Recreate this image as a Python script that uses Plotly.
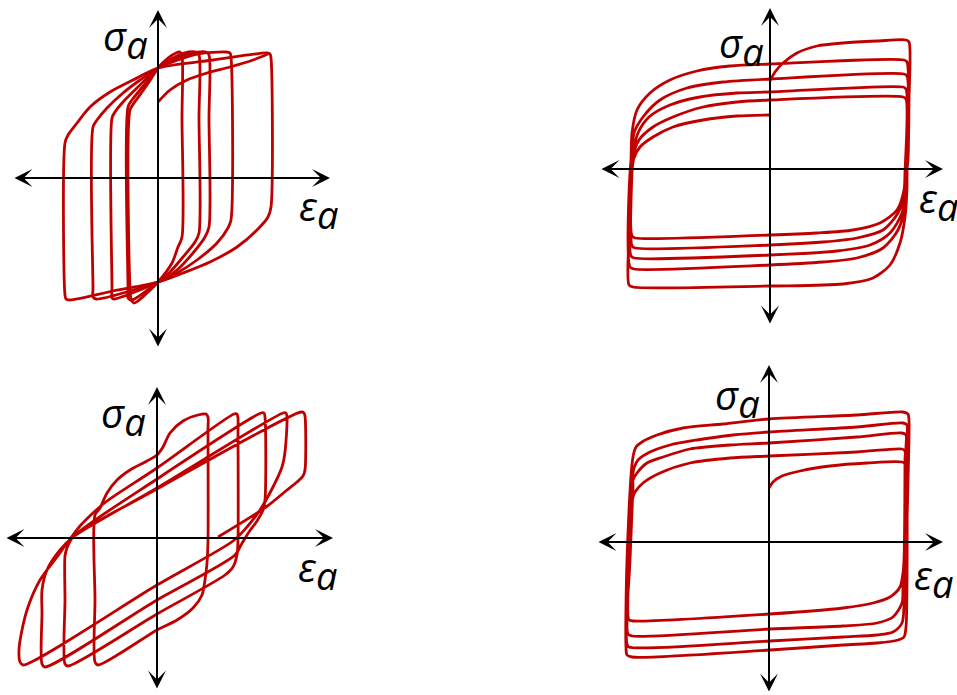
import plotly.graph_objects as go

# ── Colours / fonts ─────────────────────────────────────────
RED = '#c00000'
LABEL_FONT = dict(family='Open Sans', size=40, color='black')

# ── Data (stress–strain loops, arbitrary units, origin = axis crossing) ──
# Panel 1 : cyclic softening, loops pinned at two common points
p1_initial = [(0, 76), (12, 88), (29, 98), (49, 105), (72, 111), (95, 118), (110, 124)]
p1_loop_a = [(0, 110), (10, 120), (18, 125), (22, 126), (24, 122), (24, 60), (24, -59), (20, -69),
             (14, -85), (0, -104), (-20, -123), (-24, -125), (-27, -121), (-28, -110), (-28, 68),
             (-24, 75), (-16, 86), (-7, 99), (0, 110)]
p1_loop_b = [(0, 110), (13, 119), (26, 125), (38, 126), (41, 123), (41, 60), (41, -55), (37, -64),
             (25, -79), (12, -94), (0, -104), (-26, -122), (-30, -120), (-30, -110), (-30, 71),
             (-26, 78), (-18, 88), (-8, 100), (0, 110)]
p1_loop_c = [(0, 110), (15, 118), (30, 124), (48, 126), (51, 123), (51, 60), (51, -49), (47, -59),
             (35, -75), (19, -92), (0, -104), (-44, -121), (-46, -120), (-46, -110), (-46, 60),
             (-43, 66), (-35, 76), (-21, 90), (0, 110)]
p1_loop_d = [(0, 110), (20, 118), (39, 124), (68, 126), (72, 125), (73, 121), (73, -42), (70, -50),
             (59, -65), (39, -82), (19, -95), (0, -104), (-62, -121), (-65, -119), (-65, -110),
             (-65, 51), (-61, 58), (-51, 70), (-35, 85), (-18, 98), (0, 110)]
p1_loop_e = [(0, 110), (55, 118), (109, 125), (112, 124), (113, 120), (113, -29), (110, -39),
             (99, -52), (79, -69), (52, -84), (25, -95), (0, -104), (-45, -113), (-88, -122),
             (-92, -121), (-93, -117), (-93, 35), (-90, 43), (-81, 55), (-68, 71), (-48, 86),
             (-25, 98), (0, 110)]

# Panel 2 : cyclic softening, strain controlled
p2_path = [(0, 88), (5, 97), (13, 106), (27, 116), (47, 123), (73, 126), (107, 128), (136, 129),
           (139, 127), (139, 69), (138, 9), (137, -1), (137, -18), (135, -48), (130, -74), (120, -96),
           (103, -109), (73, -115), (0, -117), (-137, -118), (-141, -116), (-141, -64), (-140, -4),
           (-139, 9), (-138, 36), (-133, 59), (-120, 76), (-100, 89), (-73, 98), (-40, 103), (0, 105),
           (134, 109), (137, 107), (137, 2), (137, -11), (135, -38), (128, -61), (113, -79), (87, -89),
           (53, -93), (0, -96), (-136, -100), (-140, -98), (-140, -4), (-138, 12), (-136, 36),
           (-127, 52), (-110, 69), (-83, 81), (-47, 87), (0, 90), (134, 95), (137, 93), (137, -1),
           (136, -18), (132, -44), (120, -64), (100, -76), (67, -82), (0, -86), (-136, -89),
           (-139, -87), (-139, -3), (-137, 16), (-132, 36), (-121, 52), (-100, 64), (-70, 72),
           (-33, 76), (0, 77), (133, 82), (136, 80), (136, -3), (135, -23), (128, -44), (113, -61),
           (87, -69), (53, -73), (0, -76), (-135, -79), (-138, -77), (-138, -3), (-137, 12),
           (-131, 29), (-117, 42), (-97, 52), (-67, 62), (-33, 67), (0, 69), (133, 72), (136, 70),
           (135, -3), (134, -21), (127, -41), (110, -54), (83, -61), (47, -64), (0, -66),
           (-135, -69), (-138, -67), (-138, -3), (-136, 11), (-130, 22), (-117, 32), (-97, 42),
           (-67, 49), (-33, 53), (0, 54)]

# Panel 3 : kinematic hardening with growing amplitude
p3_loop_1 = [(-62, 23), (-57, 30), (-50, 45), (-40, 58), (-27, 68), (-10, 77), (0, 83), (6, 91),
             (13, 105), (26, 117), (41, 123), (49, 124), (51, 121), (51, 108), (51, -2), (50, -25),
             (48, -42), (45, -57), (36, -70), (20, -82), (0, -92), (-59, -127), (-62, -124),
             (-62, -62), (-62, 23)]
p3_path = [(-90, -5), (-84, 3), (-77, 12), (-64, 25), (-50, 37), (0, 70), (77, 124), (80, 124),
           (81, 120), (81, 108), (81, -2), (80, -17), (76, -29), (68, -37), (0, -76), (-89, -128),
           (-92, -126), (-92, -62), (-92, -18), (-90, -10), (-84, 1), (0, 59), (104, 125), (107, 125),
           (108, 121), (108, 38), (106, 28), (100, 17), (92, 6), (84, -7), (78, -17), (0, -62),
           (-112, -129), (-115, -126), (-115, -75), (-115, -52), (-110, -32), (-97, -12), (-84, 1),
           (0, 50), (126, 125), (129, 125), (130, 121), (128, 86), (125, 71), (116, 51), (103, 28),
           (90, 11), (76, -3), (0, -47), (-134, -127), (-137, -124), (-138, -112), (-135, -92),
           (-129, -69), (-117, -42), (-100, -19), (-84, 1), (0, 49), (144, 126), (147, 125),
           (148, 122), (148, 68), (146, 62), (140, 56), (130, 48), (109, 31), (61, 1)]

# Panel 4 : cyclic hardening, strain controlled
p4_path = [(0, 54), (4, 60), (13, 66), (31, 71), (61, 76), (98, 79), (133, 80), (136, 78), (136, 65),
           (135, -18), (134, -31), (131, -45), (121, -55), (104, -61), (74, -66), (1, -72),
           (-136, -79), (-140, -78), (-141, -74), (-140, -18), (-137, 39), (-136, 45), (-134, 50),
           (-126, 59), (-109, 69), (-79, 79), (-39, 84), (0, 86), (88, 90), (133, 93), (136, 91),
           (136, 82), (135, -31), (134, -45), (133, -61), (124, -75), (108, -81), (74, -84),
           (1, -87), (-137, -94), (-141, -92), (-139, -18), (-136, 55), (-136, 62), (-132, 69),
           (-122, 79), (-106, 85), (-79, 93), (-39, 97), (0, 99), (88, 105), (133, 109), (137, 107),
           (137, 95), (136, -51), (135, -65), (133, -81), (124, -90), (108, -93), (74, -95),
           (1, -99), (-140, -105), (-142, -102), (-141, -18), (-136, 69), (-135, 74), (-131, 82),
           (-119, 90), (-99, 97), (-72, 102), (-36, 107), (0, 110), (88, 115), (134, 119),
           (138, 117), (138, 105), (137, -85), (135, -95), (129, -98), (108, -101), (74, -103),
           (1, -108), (-137, -115), (-142, -113), (-143, -105), (-142, -18), (-136, 85), (-133, 95),
           (-127, 100), (-112, 107), (-86, 114), (-46, 118), (0, 123), (88, 127), (134, 130),
           (139, 128), (140, 121), (139, 60), (137, -20)]

# axis extents per panel: (eps_min, eps_max, sig_min, sig_max)
AXIS_EXTENT = [(-145, 172, -170, 168), (-170, 173, -156, 161),
               (-152, 176, -152, 151), (-172, 174, -151, 177)]
# label anchors per panel (left edge, vertical middle): sigma_a, epsilon_a
LABEL_POS = [((-57, 139), (139, -31)),
             ((-53, 123), (147, -32)),
             ((-58, 122), (139, -32)),
             ((-56, 144), (143, -36))]
SIG_TEXT = '<i>σ<sub><span style="font-size:38px">a</span></sub></i>'
EPS_TEXT = '<i>ε<sub><span style="font-size:38px">a</span></sub></i>'

# ── Layout: one hidden axis pair per panel, origin at the axis crossing ──
PAGE_W, PAGE_H = 957, 695
ORIGINS = [(158, 178), (770, 169), (157, 538), (769, 542)]

PANEL_CURVES = [
    [p1_initial, p1_loop_a, p1_loop_b, p1_loop_c, p1_loop_d, p1_loop_e],
    [p2_path],
    [p3_loop_1, p3_path],
    [p4_path],
]

fig = go.Figure()
annotations = []

for i, (curves, (ox, oy)) in enumerate(zip(PANEL_CURVES, ORIGINS)):
    sfx = '' if i == 0 else str(i + 1)
    xr, yr = 'x' + sfx, 'y' + sfx

    for pts in curves:
        fig.add_trace(go.Scatter(
            x=[p[0] for p in pts], y=[p[1] for p in pts],
            mode='lines', xaxis=xr, yaxis=yr,
            line=dict(color=RED, width=2.8, shape='spline', smoothing=0.8),
            hoverinfo='skip', showlegend=False
        ))

    fig.layout['xaxis' + sfx] = dict(domain=[0, 1], range=[-ox, PAGE_W - ox], visible=False,
                                     anchor=yr, fixedrange=True)
    fig.layout['yaxis' + sfx] = dict(domain=[0, 1], range=[oy - PAGE_H, oy], visible=False,
                                     anchor=xr, fixedrange=True)

    e0, e1, s0, s1 = AXIS_EXTENT[i]
    arrow = dict(text='', showarrow=True, xref=xr, yref=yr, axref=xr, ayref=yr,
                 arrowside='end+start', arrowhead=3, startarrowhead=3,
                 arrowsize=1.5, startarrowsize=1.5, arrowwidth=2, arrowcolor='black',
                 standoff=0, startstandoff=0)
    annotations.append(dict(arrow, x=e1, y=0, ax=e0, ay=0))
    annotations.append(dict(arrow, x=0, y=s1, ax=0, ay=s0))

    (sx, sy), (ex, ey) = LABEL_POS[i]
    for txt, lx, ly in [(SIG_TEXT, sx, sy), (EPS_TEXT, ex, ey)]:
        annotations.append(dict(text=txt, x=lx, y=ly, xref=xr, yref=yr,
                                showarrow=False, font=LABEL_FONT,
                                xanchor='left', yanchor='middle'))

fig.update_layout(
    width=PAGE_W, height=PAGE_H,
    margin=dict(l=0, r=0, t=0, b=0),
    plot_bgcolor='rgba(0,0,0,0)',
    paper_bgcolor='white',
    showlegend=False,
    annotations=annotations
)

fig.write_html("out.html", config={'displayModeBar': False},
               post_script="document.body.style.margin = '0';")
